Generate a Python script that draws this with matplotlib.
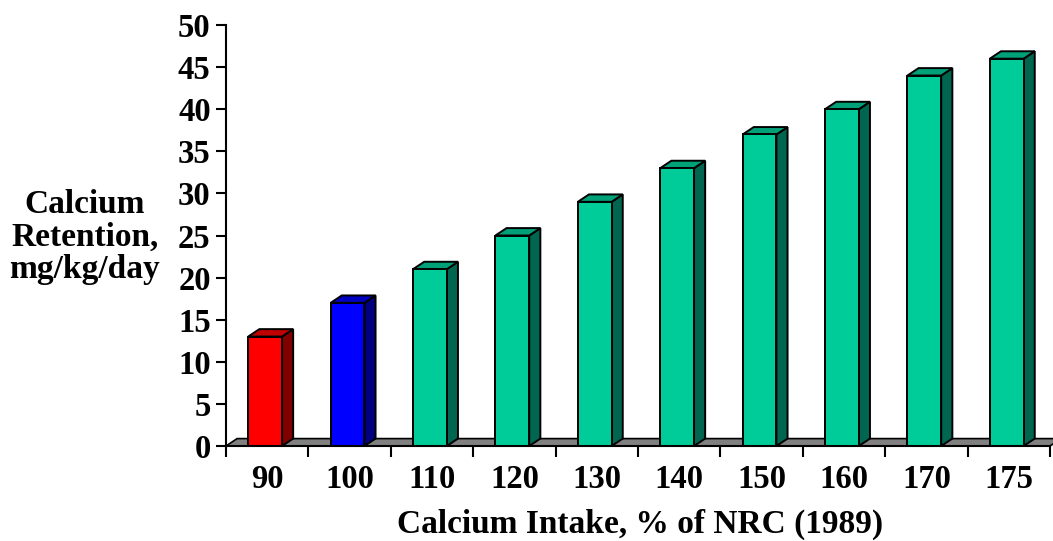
import numpy as np
import matplotlib
matplotlib.use("Agg")
from matplotlib import pyplot as plt
from matplotlib.patches import Polygon

# data
intake = ["90", "100", "110", "120", "130", "140", "150", "160", "170", "175"]
retention = [13, 17, 21, 25, 29, 33, 37, 40, 44, 46]
front_cols = ["#FF0000", "#0000FF"] + ["#00CC99"] * 8
side_cols = ["#800000", "#000080"] + ["#006650"] * 8
top_cols = ["#C00000", "#0000C0"] + ["#00A078"] * 8

plt.rcParams['font.family'] = ['Liberation Serif', 'DejaVu Serif']
plt.rcParams['font.weight'] = 'bold'

fig = plt.figure(figsize=(10.53, 5.41), dpi=100)
ax = fig.add_axes([226/1053, 1-446/541, (1050-226)/1053, (446-25)/541])
ax.set_xlim(0, len(intake))
ax.set_ylim(0, 50)

# fake 3d depth offsets (data units)
dx = 0.135
dy = 0.88
left_off = 0.27
w = 0.41

# floor
floor = Polygon([(0, 0), (len(intake), 0), (len(intake)+dx, dy), (dx, dy)],
                closed=True, facecolor="#808080", edgecolor="black", lw=1.2,
                zorder=1, clip_on=False)
ax.add_patch(floor)

for i, v in enumerate(retention):
    x0 = i + left_off
    x1 = x0 + w
    ax.add_patch(Polygon([(x1, 0), (x1+dx, dy), (x1+dx, v+dy), (x1, v)],
                         facecolor=side_cols[i], edgecolor="black", lw=1.4, zorder=2, clip_on=False))
    ax.add_patch(Polygon([(x0, v), (x1, v), (x1+dx, v+dy), (x0+dx, v+dy)],
                         facecolor=top_cols[i], edgecolor="black", lw=1.4, zorder=2, clip_on=False))
    ax.bar(x0, v, width=w, align='edge', color=front_cols[i], edgecolor="black", lw=1.4, zorder=3)

for s in ["top", "right"]:
    ax.spines[s].set_visible(False)
for s in ["left", "bottom"]:
    ax.spines[s].set_linewidth(1.5)
    ax.spines[s].set_zorder(4)

ax.set_yticks(np.arange(0, 51, 5))
ax.tick_params(axis='y', labelsize=23.5, length=7, width=1.5, pad=4)
ax.set_xticks(np.arange(len(intake)) + 0.5)
ax.set_xticklabels(intake)
ax.set_xticks(np.arange(len(intake)+1), minor=True)
ax.tick_params(axis='x', which='major', labelsize=23.5, length=0, pad=13)
ax.tick_params(axis='x', which='minor', length=8, width=1.5)

fig.text(85/1053, 1-237/541, "Calcium\nRetention,\nmg/kg/day", ha='center', va='center',
         fontsize=24, fontweight='bold', linespacing=1.06)
fig.text(640/1053, 1-524/541, "Calcium Intake, % of NRC (1989)", ha='center', va='center',
         fontsize=24, fontweight='bold')

fig.savefig("out.png", dpi=100)
